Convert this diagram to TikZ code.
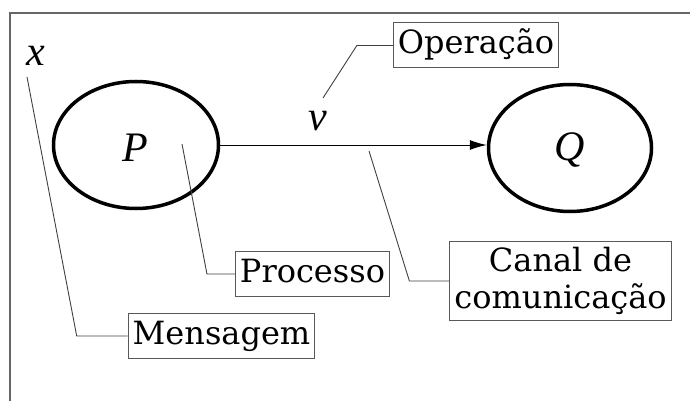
\documentclass[tikz,border=0pt]{standalone}
\usepackage{fontspec}
\setmainfont{DejaVu Serif}
\newfontfamily\varfont{Liberation Serif Italic}
\usetikzlibrary{shapes.geometric,arrows.meta}

\tikzset{
  proc/.style={draw, ellipse, line width=3.5pt, inner sep=0pt},
  tag/.style={draw=black!65, line width=1pt, inner xsep=4.5pt, inner ysep=6pt,
    font=\fontsize{32}{37}\selectfont},
  oneline/.style={text height=25pt, text depth=8pt},
  lead/.style={draw=black!75, line width=0.9pt},
  var/.style={font=\varfont\fontsize{42}{48}\selectfont, inner sep=0pt},
  flow/.style={line width=1pt, -{Latex[length=17pt,width=10pt]}}
}

\begin{document}
\begin{tikzpicture}[x=1pt,y=-1pt]
  \useasboundingbox (0,0) rectangle (690,401);

  % open frame: top and left edges
  \draw[black!60, line width=1.2pt] (10,401) -- (10,13) -- (690,13);

  % processes
  \node[proc, minimum width=165pt, minimum height=127pt] (P) at (136,145) {};
  \node[proc, minimum width=163pt, minimum height=127pt] (Q) at (570,148) {};
  \node[var] (Pname) at (135,148) {P};
  \node[var] (Qname) at (570,150) {Q};

  % channel
  \draw[flow] (P.east) -- (P.east -| Q.west);

  % variable names
  \node[var] (x) at (36,56) {x};
  \node[var] (v) at (318,121) {v};

  % labels
  \node[tag, oneline] (op)  at (476,45.5) {Operação};
  \node[tag, oneline] (pr)  at (312.5,274) {Processo};
  \node[tag, oneline] (me)  at (221.5,336) {Mensagem};
  \node[tag, align=center] (ca) at (560.5,281) {Canal de\\comunicação};

  % leader line origins
  \coordinate (opA) at (323,98);
  \coordinate (prA) at (182,144);
  \coordinate (meA) at (27,77);
  \coordinate (caA) at (369,151);

  \draw[lead] (opA) -- ([xshift=-36pt]op.west) -- (op.west);
  \draw[lead] (prA) -- ([xshift=-28pt]pr.west) -- (pr.west);
  \draw[lead] (meA) -- ([xshift=-51pt]me.west) -- (me.west);
  \draw[lead] (caA) -- ([xshift=-40pt]ca.west) -- (ca.west);
\end{tikzpicture}
\end{document}
